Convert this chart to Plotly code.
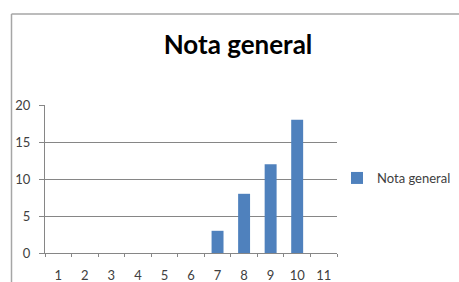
import plotly.graph_objects as go

categories = ["1", "2", "3", "4", "5", "6", "7", "8", "9", "10", "11"]
values = [0, 0, 0, 0, 0, 0, 3, 8, 12, 18, 0]
series_name = "Nota general"
title_text = "Nota general"
y_ticks = [0, 5, 10, 15, 20]

font_family = "Lato, 'Open Sans', sans-serif"

fig = go.Figure()
fig.add_trace(go.Bar(
    x=categories, y=values, name=series_name,
    marker=dict(color="#4F81BD", line=dict(width=0)),
    showlegend=True,
))

W, H = 459, 282
L, R, T, B = 45, 122, 105, 29
pw, ph = W - L - R, H - T - B

def px_to_paper_x(px):
    return (px - L) / pw

def px_to_paper_y(py):
    return (H - B - py) / ph

fig.update_layout(
    width=W, height=H,
    margin=dict(l=L, r=R, t=T, b=B, pad=0, autoexpand=False),
    paper_bgcolor="white", plot_bgcolor="white",
    font=dict(family=font_family, size=12, color="#404040"),
    title=dict(text=title_text, x=px_to_paper_x(238), xref="paper", xanchor="center",
               y=1 - 45 / H, yanchor="middle",
               font=dict(family=font_family, size=26, color="#000000", weight="bold")),
    bargap=0.55,
    legend=dict(x=px_to_paper_x(337), y=px_to_paper_y(178), xanchor="left", yanchor="middle",
                font=dict(size=13, color="#404040"), bgcolor="rgba(0,0,0,0)",
                itemwidth=30, tracegroupgap=0, borderwidth=0),
    xaxis=dict(type="category", tickson="boundaries", showgrid=False,
               showline=True, linecolor="#868686", linewidth=1,
               ticks="outside", ticklen=3, tickcolor="#868686",
               ticklabelstandoff=10, tickfont=dict(size=13, color="#404040"),
               range=[-0.5, 10.5]),
    yaxis=dict(range=[0, 20], tickvals=y_ticks, showgrid=True, gridcolor="#868686", gridwidth=1,
               showline=True, linecolor="#868686", linewidth=1, zeroline=False,
               ticks="outside", ticklen=5, tickcolor="#868686",
               ticklabelstandoff=6, tickfont=dict(size=13, color="#404040")),
)

# chart-area border (left and top edges visible)
fig.add_shape(type="line", xref="paper", yref="paper",
              x0=px_to_paper_x(11.5), x1=px_to_paper_x(11.5),
              y0=px_to_paper_y(14), y1=px_to_paper_y(300),
              line=dict(color="#A6A6A6", width=1.5))
fig.add_shape(type="line", xref="paper", yref="paper",
              x0=px_to_paper_x(11.5), x1=px_to_paper_x(480),
              y0=px_to_paper_y(14), y1=px_to_paper_y(14),
              line=dict(color="#A6A6A6", width=1.5))

fig.write_html("out.html",
               config={"displayModeBar": False},
               post_script="document.body.style.margin='0';document.body.style.overflow='hidden';")
